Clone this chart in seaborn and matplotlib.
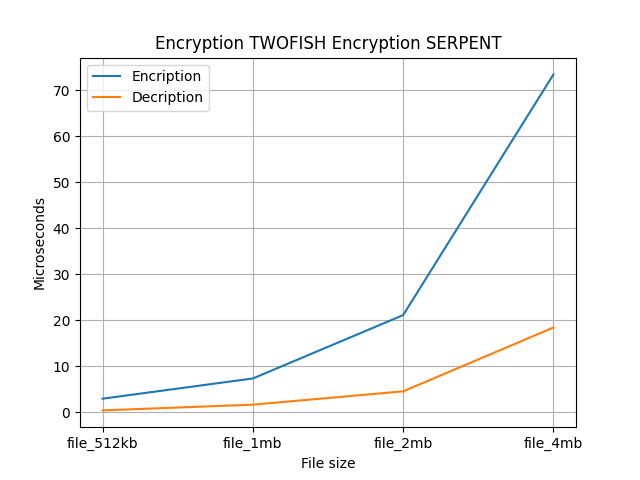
import matplotlib
matplotlib.use("Agg")
import matplotlib.pyplot as plt
import seaborn as sns
import pandas as pd

files = ["file_512kb", "file_1mb", "file_2mb", "file_4mb"]
encription = [2.9, 7.3, 21.1, 73.5]
decription = [0.35, 1.6, 4.5, 18.4]

df = pd.DataFrame({
    "File size": files * 2,
    "Microseconds": encription + decription,
    "series": ["Encription"] * 4 + ["Decription"] * 4,
})

fig, ax = plt.subplots(figsize=(6.4, 4.8), dpi=100)
sns.lineplot(data=df, x="File size", y="Microseconds", hue="series",
             palette=["#1f77b4", "#ff7f0e"], ax=ax, sort=False)
ax.legend(loc="upper left")
ax.grid(True)
ax.set_title("Encryption TWOFISH Encryption SERPENT")
ax.set_xlabel("File size")
ax.set_ylabel("Microseconds")
fig.savefig("out.png", dpi=100)
